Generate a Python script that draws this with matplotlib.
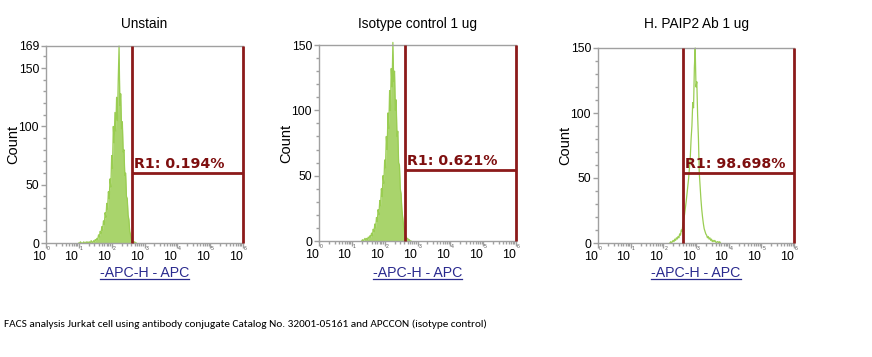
import numpy as np
import matplotlib
matplotlib.use("Agg")
import matplotlib.pyplot as plt
from matplotlib.lines import Line2D
from matplotlib.ticker import FixedLocator, NullFormatter
from matplotlib import font_manager

# ---------------- data ----------------
titles = ["Unstain", "Isotype control 1 ug", "H. PAIP2 Ab 1 ug"]
y_max = [169, 150, 150]
y_ticks = [[0, 50, 100, 150, 169], [0, 50, 100, 150], [0, 50, 100, 150]]
x_decades = [0, 1, 2, 3, 4, 5, 6]
x_label = "-APC-H - APC"
y_label = "Count"

# histogram channels: log10 start of first channel, channel width in decades
channel_step = 0.025
hist_start = [1.0, 1.3, 2.2]
counts_unstain = [0, 0, 1, 0, 0, 0, 1, 0, 0, 1, 0, 1, 0,
                  1, 0, 2, 1, 0, 2, 1, 3,
                  2, 4, 3, 7, 5, 10, 8, 14, 11, 19, 16, 26, 22, 34, 29, 44, 38,
                  55, 48, 75, 64, 100, 86, 112, 96, 125, 105, 140, 169, 118, 128,
                  98, 104, 78, 80, 58, 60, 40, 38, 24, 20, 10, 7, 3, 2, 1, 0, 1, 0, 0]
counts_isotype = [0, 1, 0, 1, 2, 1, 2, 1, 3, 2, 4, 3, 6, 4, 9, 7, 13, 10, 18, 15,
                  24, 20, 31, 27, 40, 34, 50, 44, 62, 56, 80, 70, 98, 86, 115, 100,
                  132, 118, 152, 122, 130, 100, 108, 80, 84, 60, 58, 40, 36, 24, 18,
                  12, 8, 5, 3, 2, 2, 1, 1, 0, 0]
counts_paip2 = [0, 1, 0, 1, 2, 1, 3, 2, 4, 3, 5, 4, 7, 6, 10, 9, 15, 18, 22, 27,
                32, 38, 44, 50, 58, 66, 80, 90, 108, 104, 135, 150, 120, 124, 98,
                80, 54, 44, 34, 26, 20, 15, 11, 9, 7, 6, 4, 5, 3, 4, 2, 3, 1, 2,
                1, 2, 1, 0, 1, 1, 0, 1, 0]
all_counts = [counts_unstain, counts_isotype, counts_paip2]
# low-channel histograms look solid (dense channel quantisation)
solid_look = [True, True, False]

# gate R1 (log10 bounds, level) and its label
gate_lo = [2.62, 2.61, 2.60]
gate_hi = [6.0, 6.0, 6.0]
gate_level = [60, 54, 54]
gate_labels = ["R1: 0.194%", "R1: 0.621%", "R1: 98.698%"]

caption = ("FACS analysis Jurkat cell using antibody conjugate Catalog No. "
           "32001-05161 and APCCON (isotype control)")

# ---------------- layout / style ----------------
W, H = 872, 357
fig = plt.figure(figsize=(W / 100, H / 100), dpi=100)
fig.patch.set_facecolor("white")

boxes = [(46, 46, 243, 243), (319, 45, 516, 241), (598, 48, 794, 243)]
GREEN = "#9ACD52"
GATE = "#8C1A1A"
GATE_TXT = "#7E0F0F"
GRAY = "#A0A0A0"
NAVY = "#2A2A8E"
SANS = ["Liberation Sans", "DejaVu Sans"]

xlabels = []
for i in range(3):
    l, t, r, b = boxes[i]
    ax = fig.add_axes([l / W, 1 - b / H, (r - l) / W, (b - t) / H])
    ax.set_xscale("log")
    ax.set_xlim(10 ** x_decades[0], 10 ** x_decades[-1])
    ax.set_ylim(0, y_max[i])

    c = np.array(all_counts[i], dtype=float)
    xs = 10 ** (hist_start[i] + channel_step * np.arange(len(c)))
    if solid_look[i]:
        ax.fill_between(xs, 0, c, color=GREEN, alpha=0.85, lw=0, zorder=2)
    ax.plot(xs, c, color=GREEN, lw=0.9, zorder=2, clip_on=False)

    lo, hi = 10 ** gate_lo[i], 10 ** gate_hi[i]
    for xx in (lo, hi):
        ax.plot([xx, xx], [0, y_max[i]], color=GATE, lw=2.0, zorder=3,
                clip_on=False, solid_capstyle="butt")
    ax.plot([lo, hi], [gate_level[i], gate_level[i]], color=GATE, lw=2.0,
            zorder=3, clip_on=False, solid_capstyle="butt")
    ax.annotate(gate_labels[i], xy=(lo, gate_level[i]), xytext=(2, 5),
                textcoords="offset pixels", ha="left", va="baseline",
                color=GATE_TXT, fontsize=10.2, fontweight="bold",
                family="DejaVu Sans", zorder=4)

    for s in ["left", "bottom", "top"]:
        ax.spines[s].set_color(GRAY)
        ax.spines[s].set_linewidth(1.0)
    ax.spines["right"].set_visible(False)

    ax.yaxis.set_major_locator(FixedLocator(y_ticks[i]))
    ax.yaxis.set_minor_locator(FixedLocator(list(range(0, y_max[i] + 1, 10))))
    ax.set_yticklabels([str(v) for v in y_ticks[i]], fontsize=8.7, family=SANS)
    ax.tick_params(axis="y", which="major", length=3.5, width=1, color=GRAY, pad=1.5)
    ax.tick_params(axis="y", which="minor", length=2.2, width=1, color=GRAY)

    ax.xaxis.set_major_locator(FixedLocator([10.0 ** d for d in x_decades]))
    minors = [k * 10.0 ** d for d in x_decades[:-1] for k in range(2, 10)]
    ax.xaxis.set_minor_locator(FixedLocator(minors))
    ax.xaxis.set_major_formatter(NullFormatter())
    ax.xaxis.set_minor_formatter(NullFormatter())
    ax.tick_params(axis="x", which="major", length=3.5, width=1, color=GRAY)
    ax.tick_params(axis="x", which="minor", length=2.2, width=1, color=GRAY)
    for d in x_decades:
        ax.annotate("10", xy=(10.0 ** d, 0), xycoords=("data", "axes fraction"),
                    xytext=(-0.5, -8.5), textcoords="offset pixels", ha="right",
                    va="top", fontsize=8.9, family=SANS)
        ax.annotate(str(d), xy=(10.0 ** d, 0), xycoords=("data", "axes fraction"),
                    xytext=(1, -3), textcoords="offset pixels", ha="left",
                    va="top", fontsize=3.6, family=SANS, color="#555555")

    ax.set_ylabel(y_label, fontsize=10.5, family=SANS, va="center")
    ax.yaxis.set_label_coords(-33.0 / (r - l), 0.5)

    fig.text((l + r) / 2 / W, 1 - 24 / H, titles[i], ha="center", va="center",
             fontsize=9.8, family=SANS)
    xl = fig.text((l + r) / 2 / W, 1 - 273 / H, x_label, ha="center",
                  va="center", fontsize=10.2, family=SANS, color=NAVY)
    xlabels.append(xl)

# caption: pick the installed family that is narrowest for this text
fig.canvas.draw()
rend = fig.canvas.get_renderer()
installed = {f.name for f in font_manager.fontManager.ttflist}
best_family, best_w = "Lato", None
for cand in ["Liberation Sans Narrow", "Carlito", "Noto Sans CJK SC", "Lato",
             "Roboto", "Liberation Sans"]:
    if cand not in installed:
        continue
    probe = fig.text(0, 0, caption, fontsize=10, family=cand)
    w = probe.get_window_extent(rend).width
    probe.remove()
    if best_w is None or w < best_w:
        best_family, best_w = cand, w

cap = fig.text(4 / W, 1 - 324 / H, caption, ha="left", va="center",
               fontsize=10.0 * 486.0 / best_w,
               family=[best_family, "DejaVu Sans"], color="black")

for xl in xlabels:
    bb = xl.get_window_extent(rend)
    yline = bb.y0 + 1.0
    fig.add_artist(Line2D([bb.x0 / W, bb.x1 / W], [yline / H, yline / H],
                          transform=fig.transFigure, color=NAVY, lw=0.9))

fig.savefig("out.png", dpi=100, facecolor="white")
